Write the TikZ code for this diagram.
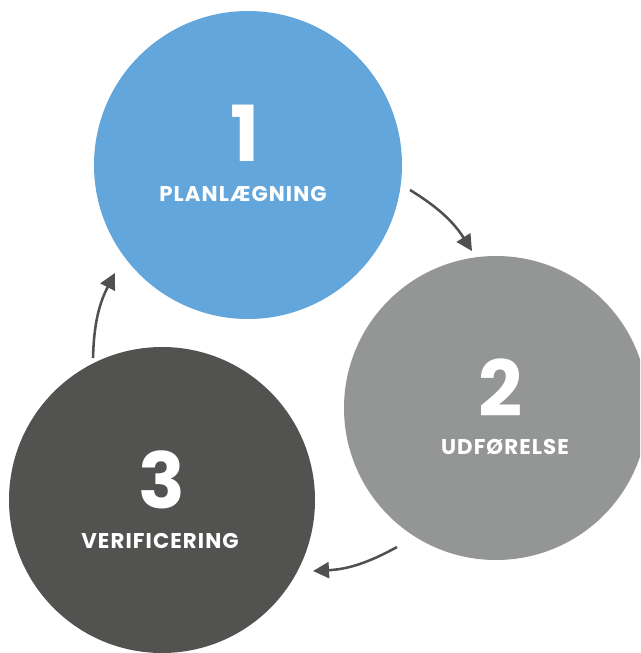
\documentclass[tikz,border=0pt]{standalone}
\usepackage{fontspec}
\setmainfont{Poppins}
\newfontfamily\lblfont[LetterSpace=5]{Poppins}
\usetikzlibrary{arrows.meta}
\definecolor{plan}{HTML}{62A6DB}
\definecolor{udf}{HTML}{949595}
\definecolor{ver}{HTML}{525251}
\definecolor{pil}{HTML}{505050}
\tikzset{
  fase/.style={circle, inner sep=0pt, outer sep=0pt, minimum size=231pt},
  num/.style={text=white, font=\fontsize{58}{58}\selectfont\bfseries, inner sep=0pt},
  lbl/.style={text=white, font=\lblfont\fontsize{16}{16}\selectfont\bfseries, inner sep=0pt},
  pil/.style={draw=pil, line width=1.9pt, -{Triangle[length=12pt,width=12pt]}}
}
\begin{document}
\begin{tikzpicture}[x=0.75pt, y=-0.75pt]
\useasboundingbox (0,0) rectangle (640,653);
\clip (0,0) rectangle (640,653);
% the three circles
\node[fase, fill=plan] (c1) at (248,165) {};
\node[fase, fill=udf, minimum size=228pt] (c2) at (496,408) {};
\node[fase, fill=ver, minimum size=229.5pt] (c3) at (162,500) {};

% numbers and labels
\node[num] (n1) at (245,133) {1};
\node[lbl] (l1) at (243,194) {PLANLÆGNING};
\node[num] (n2) at (501,388) {2};
\node[lbl] (l2) at (505,447) {UDFØRELSE};
\node[num] (n3) at (162,480) {3};
\node[lbl] (l3) at (160,541) {VERIFICERING};

% arrows between the phases
\coordinate (a1) at (410,190);
\coordinate (b1) at (472,251);
\coordinate (a2) at (397,547);
\coordinate (b2) at (313,571);
\coordinate (a3) at (93,358);
\coordinate (b3) at (115,273);
\draw[pil] (a1) to[bend left=13] (b1);
\draw[pil] (a2) to[bend left=13] (b2);
\draw[pil] (a3) to[bend left=13] (b3);
\end{tikzpicture}
\end{document}
